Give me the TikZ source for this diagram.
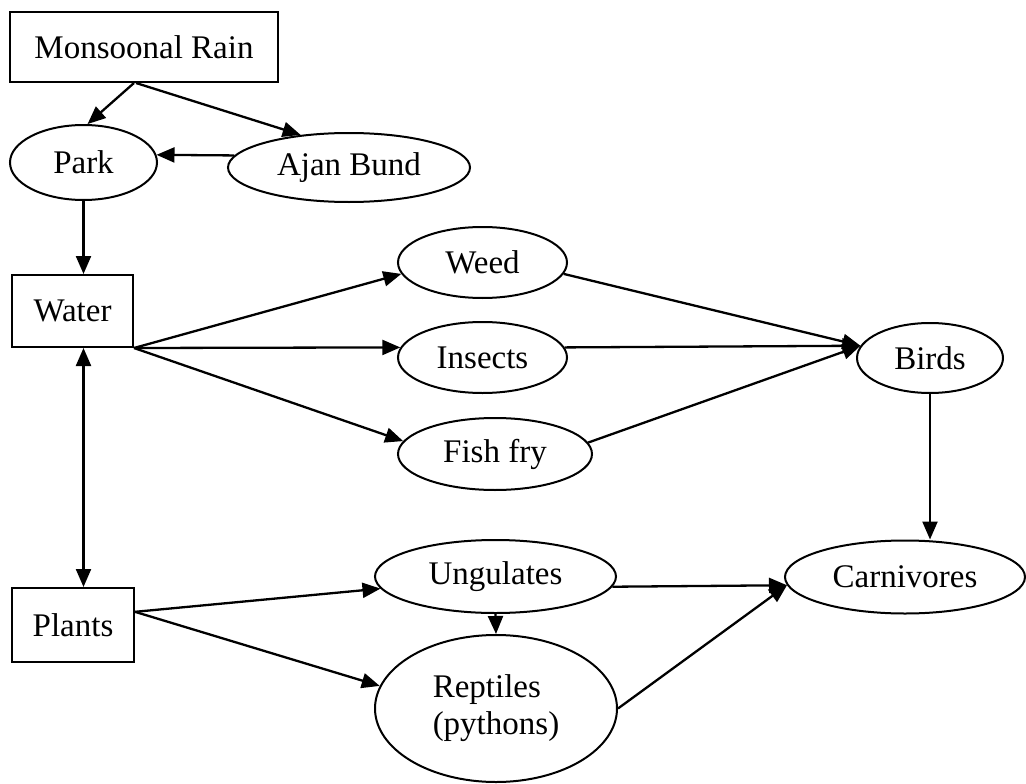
\documentclass[tikz,border=0pt]{standalone}
\usepackage{fontspec}
\setmainfont{Liberation Serif}
\usetikzlibrary{positioning,shapes.geometric,arrows.meta}
\tikzset{
  >={Triangle[length=18pt,width=15pt]},
  every node/.style={font=\fontsize{33}{37}\selectfont},
  % --- nodes
  box/.style  = {draw, rectangle, line width=2pt, inner sep=0pt},
  oval/.style = {draw, ellipse, line width=2pt, inner sep=0pt, align=left},
  % --- edges
  e/.style    = {->, line width=2.3pt},
  ee/.style   = {<->, line width=2.3pt},
}
\begin{document}
\begin{tikzpicture}[x=1pt,y=-1pt]
  \useasboundingbox (0,0) rectangle (1026,784);
  % top
  \node[box, minimum width=268pt, minimum height=70pt] (rain) at (144,47) {Monsoonal Rain};
  \node[oval, minimum width=147pt, minimum height=75pt] (park) at (83.5,162.5) {Park};
  \node[oval, minimum width=242pt, minimum height=69pt] (bund) at (349,167.5) {Ajan Bund};
  % water branch
  \node[box, minimum width=121pt, minimum height=72pt] (water) at (72.5,311) {Water};
  \node[oval, minimum width=169pt, minimum height=71pt] (weed) at (482.5,262.5) {Weed};
  \node[oval, minimum width=169pt, minimum height=71pt] (insects) at (482.5,357.5) {Insects};
  \node[oval, minimum width=194pt, minimum height=72pt] (fish) at (495,454) {Fish fry};
  \node[oval, minimum width=146pt, minimum height=70pt] (birds) at (930,358) {Birds};
  % plants branch
  \node[box, minimum width=122pt, minimum height=74pt] (plants) at (73,625) {Plants};
  \node[oval, minimum width=241pt, minimum height=73pt] (ungul) at (495.5,576.5) {Ungulates};
  \node[oval, minimum width=242pt, minimum height=147pt] (rept) at (496,708.5) {\raisebox{4pt}{Reptiles}\\\raisebox{4pt}{(pythons)}\hspace{12pt}};
  \node[oval, minimum width=240pt, minimum height=73pt] (carn) at (905,577) {Carnivores};

  \draw[e] ([xshift=-10pt]rain.south) -- (park.84);
  \draw[e] ([xshift=-8pt]rain.south) -- (bund.146);
  \draw[e] (bund.174) -- (park.6);
  \draw[e] (park.south) -- (park.south |- water.north);
  \draw[ee] (park.south |- water.south) -- (park.south |- plants.north);

  \draw[e] (water.south east) -- (weed.188);
  \draw[e] (water.south east) -- (insects.173);
  \draw[e] (water.south east) -- (fish.172);
  \draw[e] (weed.-8) -- (birds.170);
  \draw[e] (insects.7) -- (birds.170);
  \draw[e] (fish.7) -- (birds.170);
  \draw[e] (birds.south) -- (birds.south |- carn.north);

  \draw[e] (plants.12) -- (ungul.186);
  \draw[e] (plants.12) -- (rept.169);
  \draw[e] (ungul.south) -- (rept.north);
  \draw[e] (ungul.-5) -- (carn.184);
  \draw[e] (rept.east) -- (carn.184);
\end{tikzpicture}
\end{document}
